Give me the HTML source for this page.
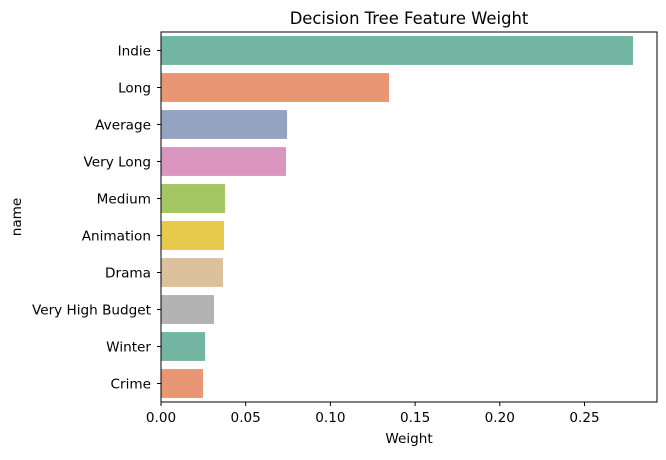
<!DOCTYPE html>
<html><head><meta charset="utf-8"><style>
body{margin:0;background:#fff;font-family:"Liberation Sans","DejaVu Sans",sans-serif;}
svg text{font-family:"DejaVu Sans","Liberation Sans",sans-serif;font-size:13.6px;fill:#000;}
</style></head><body>
<svg id="chart" width="666" height="455" xmlns="http://www.w3.org/2000/svg">
<text x="409" y="24" text-anchor="middle" style="font-size:16.4px">Decision Tree Feature Weight</text>
<text x="409" y="443" text-anchor="middle">Weight</text>
<text transform="translate(21,217) rotate(-90)" text-anchor="middle">name</text>
<g id="bars"></g><g id="xticks"></g><g id="yticks"></g>
<rect x="161" y="32" width="496" height="370" fill="none" stroke="#000" stroke-width="1"/>
</svg>
<script>
const categories=["Indie","Long","Average","Very Long","Medium","Animation","Drama","Very High Budget","Winter","Crime"];
const weights=[0.2786,0.1346,0.0744,0.0738,0.0378,0.0372,0.0366,0.0313,0.026,0.0248];
const xTicks=[0,0.05,0.10,0.15,0.20,0.25];
const xTickLabels=["0.00","0.05","0.10","0.15","0.20","0.25"];
const colors=["#72b6a1","#e99675","#95a3c3","#db96c0","#a4c764","#e5ca4b","#dbc29c","#b3b3b3","#72b6a1","#e99675"];
const NS="http://www.w3.org/2000/svg";
const L=161,R=657,T=32,B=402,xMax=(R-L)/1694;
const x=v=>L+v/xMax*(R-L);
const band=(B-T)/categories.length;
const yc=i=>T+band*(i+0.5);
const bars=document.getElementById('bars'),xt=document.getElementById('xticks'),yt=document.getElementById('yticks');
categories.forEach((c,i)=>{
 const r=document.createElementNS(NS,'rect');
 
 
 const h=band*0.78;
 r.setAttribute('x',x(0));r.setAttribute('y',yc(i)-h/2);
 r.setAttribute('width',x(weights[i])-x(0));r.setAttribute('height',h);
 r.setAttribute('fill',colors[i]);bars.appendChild(r);
 const tk=document.createElementNS(NS,'line');
 
 
 tk.setAttribute('x1',L-4);tk.setAttribute('x2',L);tk.setAttribute('y1',yc(i));tk.setAttribute('y2',yc(i));tk.setAttribute('stroke','#000');yt.appendChild(tk);
 const t=document.createElementNS(NS,'text');
 
 
 t.setAttribute('x',L-10);t.setAttribute('y',yc(i)+5);t.setAttribute('text-anchor','end');t.textContent=c;yt.appendChild(t);
});
xTicks.forEach((v,i)=>{
 const tk=document.createElementNS(NS,'line');
 
 
 tk.setAttribute('x1',x(v));tk.setAttribute('x2',x(v));tk.setAttribute('y1',B);tk.setAttribute('y2',B+4);tk.setAttribute('stroke','#000');xt.appendChild(tk);
 const t=document.createElementNS(NS,'text');
 
 
 t.setAttribute('x',x(v));t.setAttribute('y',B+20);t.setAttribute('text-anchor','middle');t.textContent=xTickLabels[i];xt.appendChild(t);
});
</script>
</body></html>
